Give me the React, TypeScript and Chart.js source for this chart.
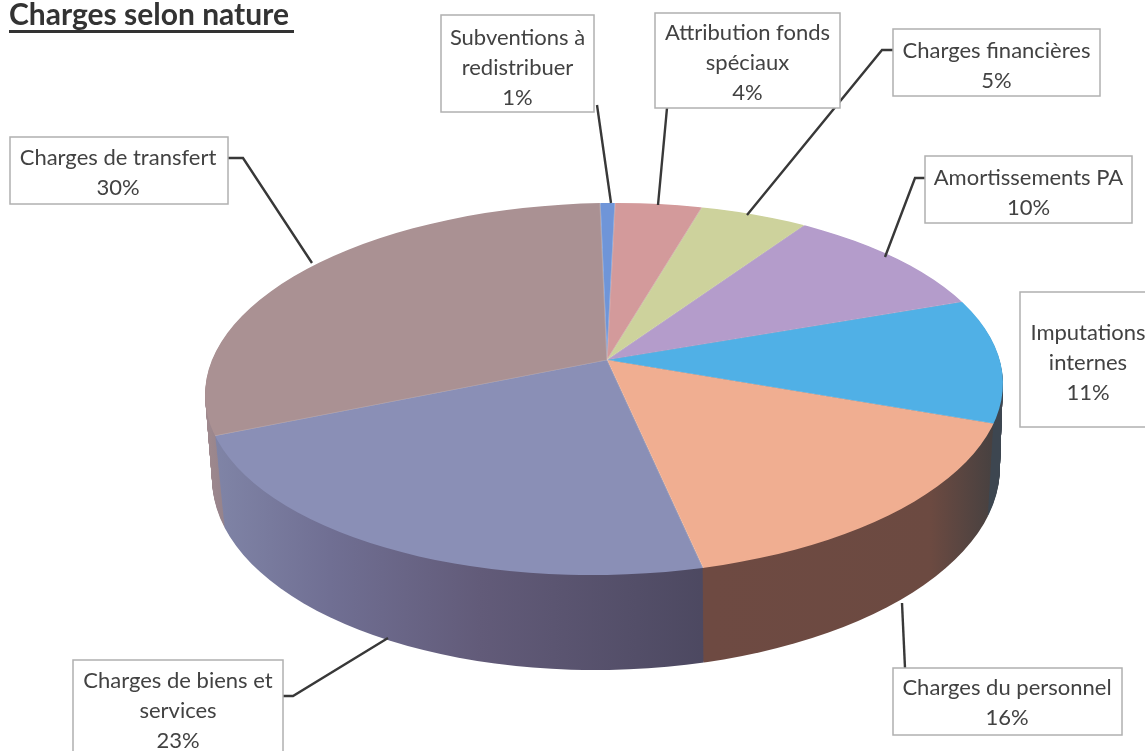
import React, { useEffect, useRef } from "react";
import { Chart, registerables } from "chart.js";

Chart.register(...registerables);

// Data, clockwise from the top of the pie
const categories = [
  "Subventions à redistribuer",
  "Attribution fonds spéciaux",
  "Charges financières",
  "Amortissements PA",
  "Imputations internes",
  "Charges du personnel",
  "Charges de biens et services",
  "Charges de transfert",
];
const values = [0.6, 3.5, 4.5, 10.4, 11, 16.4, 23.4, 30.2];
const titleText = "Charges selon nature";

// Styles
const topColors = ["#6f95d8", "#d39a9b", "#cdd29c", "#b49ccb", "#50b0e6", "#f0ae91", "#8a8fb6", "#aa9193"];
const sideStops: [number, string][][] = [
  [[0, "#4a5f88"], [1, "#4a5f88"]],
  [[0, "#86605f"], [1, "#86605f"]],
  [[0, "#80845f"], [1, "#80845f"]],
  [[0, "#6f5f82"], [1, "#6f5f82"]],
  [[900, "#3d4650"], [1010, "#3d4650"]],
  [[711, "#6e4a42"], [930, "#6c4a41"], [1005, "#403f40"]],
  [[205, "#8186a8"], [330, "#706f93"], [480, "#625b79"], [711, "#4c4860"]],
  [[205, "#a08a8e"], [240, "#8d7d8a"]],
];

// Label layout: lines of each box, then x1, y1, x2, y2 and the leader polyline
const labelLines = [
  ["Subventions à", "redistribuer"],
  ["Attribution fonds", "spéciaux"],
  ["Charges financières"],
  ["Amortissements PA"],
  ["Imputations", "internes"],
  ["Charges du personnel"],
  ["Charges de biens et", "services"],
  ["Charges de transfert"],
];
const labelBoxes = [
  [441, 15, 594, 112],
  [655, 13, 840, 108],
  [893, 29, 1100, 96],
  [925, 156, 1132, 223],
  [1020, 292, 1156, 427],
  [893, 668, 1122, 735],
  [73, 660, 283, 760],
  [10, 137, 228, 204],
];
const labelTextCentre = [517.5, 747.5, 996.5, 1028.5, 1088, 1007, 178, 118];
const labelFirstBaseline = [45, 40, 58, 185, 340, 695, 688, 165];
const leaders = [
  [[597, 105], [611, 203]],
  [[667, 108], [658, 205]],
  [[893, 50], [882, 50], [747, 215]],
  [[925, 178], [915, 178], [885, 257]],
  [[905, 668], [902, 603]],
  [[283, 696], [293, 696], [388, 638]],
  [[228, 158], [243, 158], [312, 263]],
];

const APEX_X = 607;
const APEX_Y = 360;
const TILT = -0.018;
const REACH = 1.25;

function pie3d() {
  return {
    id: "pie3d",
    beforeDatasetDraw(chart: any) {
      const ctx: CanvasRenderingContext2D = chart.ctx;
      const arcs: any[] = chart.getDatasetMeta(0).data;
      const r = arcs[0].outerRadius;
      const sx = (399 * REACH) / r;
      const syTop = (157 * REACH) / r;
      const syBottom = (215 * REACH) / r;
      const toChartX = (X: number) => arcs[0].x + (X - APEX_X) / sx;

      const drawLayer = (
        cx: number, cy: number, rx: number, ry: number, apexY: number,
        fill: ((i: number) => any) | null,
      ) => {
        ctx.save();
        ctx.beginPath();
        ctx.ellipse(cx, cy, rx, ry, TILT, 0, Math.PI * 2);
        ctx.clip();
        for (const half of [0, 1]) {
          ctx.save();
          ctx.beginPath();
          if (half === 0) ctx.rect(0, apexY, 1145, 751);
          else ctx.rect(0, 0, 1145, apexY + 0.5);
          ctx.clip();
          ctx.translate(APEX_X, apexY);
          ctx.scale(sx, half === 0 ? syBottom : syTop);
          ctx.translate(-arcs[0].x, -arcs[0].y);
          arcs.forEach((arc, i) => {
            const saved = arc.options;
            if (fill) arc.options = { ...saved, backgroundColor: fill(i), borderWidth: 0 };
            arc.draw(ctx);
            arc.options = saved;
          });
          ctx.restore();
        }
        ctx.restore();
      };

      const gradients = sideStops.map((stops) => {
        const a = stops[0][0];
        const b = stops[stops.length - 1][0];
        const g = ctx.createLinearGradient(toChartX(a), 0, toChartX(b), 0);
        stops.forEach(([x, c]) => g.addColorStop((x - a) / (b - a), c));
        return g;
      });

      const layers = 84;
      for (let k = layers; k >= 1; k--) {
        const t = k / layers;
        drawLayer(604 + 2 * t, 389 + 84 * t, 399 - 5 * t, 186 + 11 * t, APEX_Y + 93 * t, (i) => gradients[i]);
      }
      drawLayer(604, 389, 399, 186, APEX_Y, null);
      return false;
    },
    afterDraw(chart: any) {
      const ctx: CanvasRenderingContext2D = chart.ctx;
      ctx.save();
      // Title
      ctx.fillStyle = "#333333";
      ctx.font = "bold 30px Lato";
      ctx.textAlign = "left";
      ctx.textBaseline = "alphabetic";
      ctx.fillText(titleText, 9, 25);
      ctx.fillRect(9, 30, 285, 3);

      // Leader lines
      ctx.strokeStyle = "#383838";
      ctx.lineWidth = 2.4;
      leaders.forEach((pts) => {
        ctx.beginPath();
        pts.forEach(([x, y], i) => (i === 0 ? ctx.moveTo(x, y) : ctx.lineTo(x, y)));
        ctx.stroke();
      });

      // Label boxes
      ctx.font = "22px Lato";
      ctx.textAlign = "center";
      categories.forEach((_, i) => {
        const [x1, y1, x2, y2] = labelBoxes[i];
        ctx.fillStyle = "#ffffff";
        ctx.fillRect(x1, y1, x2 - x1, y2 - y1);
        ctx.strokeStyle = "#b0b0b0";
        ctx.lineWidth = 1.5;
        ctx.strokeRect(x1, y1, x2 - x1, y2 - y1);
        ctx.fillStyle = "#424242";
        const lines = [...labelLines[i], `${Math.round(values[i])}%`];
        lines.forEach((line, j) => {
          ctx.fillText(line, labelTextCentre[i], labelFirstBaseline[i] + j * 30);
        });
      });
      ctx.restore();
    },
  };
}

export default function App() {
  const ref = useRef<HTMLCanvasElement>(null);
  useEffect(() => {
    document.body.style.margin = "0";
    document.body.style.background = "#ffffff";
    document.body.style.overflow = "hidden";
    const chart = new Chart(ref.current!, {
      type: "pie",
      data: {
        labels: categories,
        datasets: [
          {
            data: values,
            backgroundColor: topColors,
            borderColor: "rgba(255,255,255,0.18)",
            borderWidth: 1,
          },
        ],
      },
      options: {
        responsive: false,
        animation: false,
        rotation: -1,
        layout: { padding: 0 },
        plugins: {
          legend: { display: false },
          tooltip: { enabled: false },
        },
      },
      plugins: [pie3d()],
    });
    return () => chart.destroy();
  }, []);
  return <canvas ref={ref} width={1145} height={751} style={{ display: "block" }} />;
}
